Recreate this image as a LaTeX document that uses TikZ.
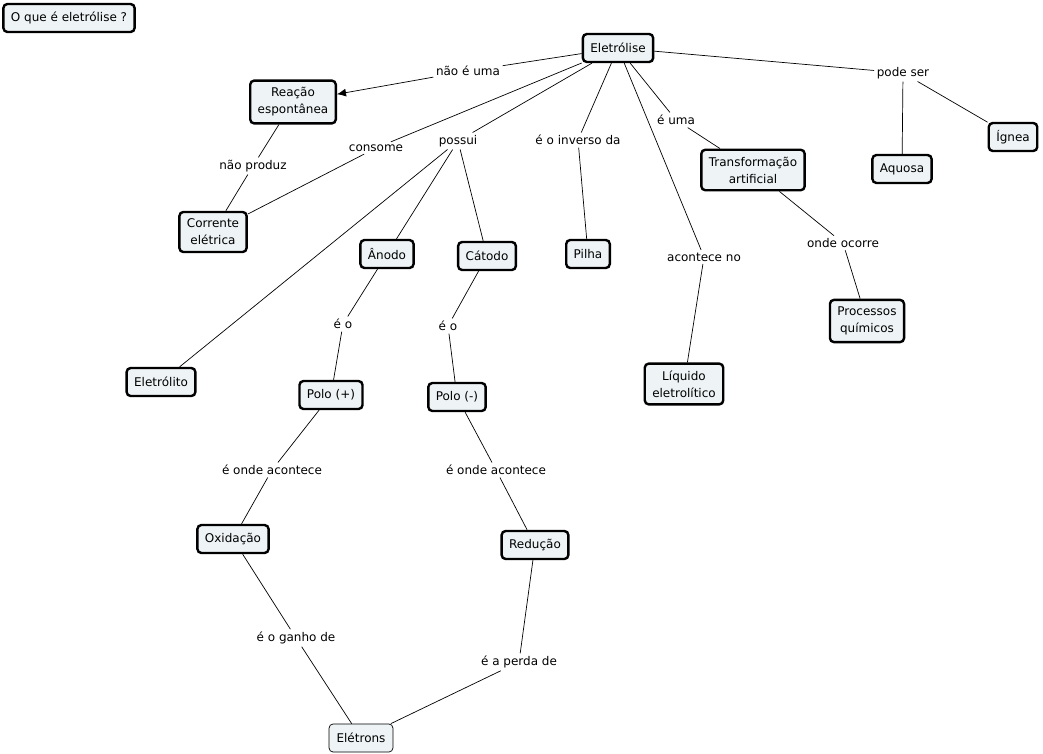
\documentclass[tikz,border=0pt]{standalone}
\usepackage{fontspec}
\setmainfont{DejaVu Sans}
\usetikzlibrary{arrows.meta,positioning}
\definecolor{cfundo}{HTML}{EEF3F5}
\tikzset{
  conceito/.style={rectangle, rounded corners=4pt, draw=black, line width=2.4pt, fill=cfundo,
                   align=center, font=\fontsize{12}{17}\selectfont, inner xsep=7.5pt, inner ysep=7pt,
                   minimum height=28pt},
  fino/.style={conceito, line width=0.7pt},
  frase/.style={fill=white, inner sep=2.5pt, font=\fontsize{12}{14}\selectfont},
  lig/.style={line width=0.7pt, draw=black},
  seta/.style={lig, -{Latex[length=9pt,width=8pt]}},
}
\begin{document}
\begin{tikzpicture}[x=1pt, y=-1pt]
  \useasboundingbox[fill=white] (0,0) rectangle (1043,754);
  % conceitos
  \node[conceito] (pergunta) at (69,18) {O que é eletrólise ?};
  \node[conceito] (eletrolise) at (618,48) {Eletrólise};
  \node[conceito] (reacao) at (293,102) {Reação\\espontânea};
  \node[conceito] (corrente) at (213,232) {Corrente\\elétrica};
  \node[conceito] (anodo) at (387,254) {Ânodo};
  \node[conceito] (catodo) at (487,256) {Cátodo};
  \node[conceito] (pilha) at (588,254) {Pilha};
  \node[conceito] (transf) at (753,170) {Transformação\\artificial};
  \node[conceito] (aquosa) at (902,169) {Aquosa};
  \node[conceito] (ignea) at (1013,137) {Ígnea};
  \node[conceito] (processos) at (867,321) {Processos\\químicos};
  \node[conceito] (liquido) at (684,384) {Líquido\\eletrolítico};
  \node[conceito] (eletrolito) at (161,382) {Eletrólito};
  \node[conceito] (polomais) at (331,395) {Polo (+)};
  \node[conceito] (polomenos) at (457,397) {Polo (-)};
  \node[conceito] (oxidacao) at (233,539) {Oxidação};
  \node[conceito] (reducao) at (535,545) {Redução};
  \node[fino] (eletrons) at (361,738) {Elétrons};
  % frases de ligacao
  \node[frase] (naoe) at (468,71) {não é uma};
  \node[frase] (consome) at (376,148) {consome};
  \node[frase] (possui) at (458,141) {possui};
  \node[frase] (inverso) at (578,140) {é o inverso da};
  \node[frase] (euma) at (676,120) {é uma};
  \node[frase] (podeser) at (903,73) {pode ser};
  \node[frase] (naoproduz) at (253,166) {não produz};
  \node[frase] (acontece) at (704,257) {acontece no};
  \node[frase] (ondeocorre) at (843,243) {onde ocorre};
  \node[frase] (eo1) at (343,324) {é o};
  \node[frase] (eo2) at (448,326) {é o};
  \node[frase] (onde1) at (272,470) {é onde acontece};
  \node[frase] (onde2) at (496,470) {é onde acontece};
  \node[frase] (ganho) at (296,638) {é o ganho de};
  \node[frase] (perda) at (519,662) {é a perda de};
  % ligacoes
  \draw[lig] (eletrolise) -- (naoe);
  \draw[seta] (naoe) -- (reacao);
  \draw[lig] (eletrolise) -- (consome);
  \draw[lig] (consome) -- (corrente);
  \draw[lig] (eletrolise) -- (possui);
  \draw[lig] (possui) -- (anodo);
  \draw[lig] (possui) -- (catodo);
  \draw[lig] (possui) -- (eletrolito);
  \draw[lig] (eletrolise) -- (inverso);
  \draw[lig] (inverso) -- (pilha);
  \draw[lig] (eletrolise) -- (euma);
  \draw[lig] (euma) -- (transf);
  \draw[lig] (eletrolise) -- (acontece);
  \draw[lig] (acontece) -- (liquido);
  \draw[lig] (eletrolise) -- (podeser);
  \draw[lig] (podeser) -- (aquosa);
  \draw[lig] (podeser) -- (ignea);
  \draw[lig] (reacao) -- (naoproduz);
  \draw[lig] (naoproduz) -- (corrente);
  \draw[lig] (transf) -- (ondeocorre);
  \draw[lig] (ondeocorre) -- (processos);
  \draw[lig] (anodo) -- (eo1);
  \draw[lig] (eo1) -- (polomais);
  \draw[lig] (catodo) -- (eo2);
  \draw[lig] (eo2) -- (polomenos);
  \draw[lig] (polomais) -- (onde1);
  \draw[lig] (onde1) -- (oxidacao);
  \draw[lig] (polomenos) -- (onde2);
  \draw[lig] (onde2) -- (reducao);
  \draw[lig] (oxidacao) -- (ganho);
  \draw[lig] (ganho) -- (eletrons);
  \draw[lig] (reducao) -- (perda);
  \draw[lig] (perda) -- (eletrons);
\end{tikzpicture}
\end{document}
